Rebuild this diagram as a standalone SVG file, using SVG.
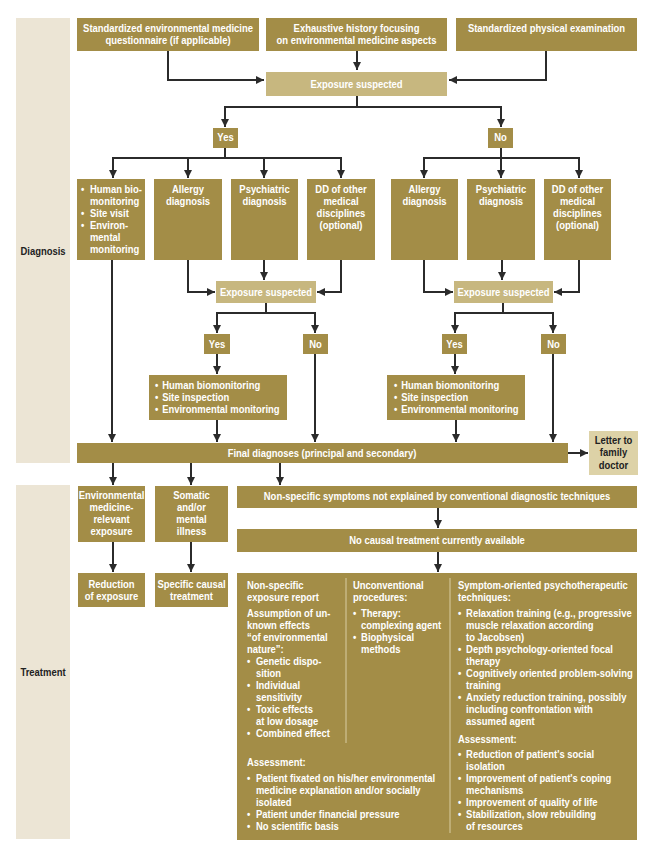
<svg xmlns="http://www.w3.org/2000/svg" width="654" height="859" viewBox="0 0 654 859">
<defs>
<marker id="ah" markerWidth="9" markerHeight="8" refX="8" refY="4" orient="auto" markerUnits="userSpaceOnUse">
<path d="M0,0 L8,4 L0,8 z" fill="#2b2b2b"/>
</marker>
<style>
.band{fill:#ECE5D5}
.box{fill:#A38D47}
.lt{fill:#C7B77F}
.lt2{fill:#DDD2A7}
.t{font-family:"Liberation Sans",Arial,sans-serif;font-weight:bold;font-size:10.5px;fill:#FFFFFF}
.d{font-family:"Liberation Sans",Arial,sans-serif;font-weight:bold;font-size:10.5px;fill:#222222}
.c{fill:none;stroke:#2b2b2b;stroke-width:2}
.a{marker-end:url(#ah)}
.div{stroke:#D9CDA3;stroke-width:1}
</style>
</defs>
<rect width="654" height="859" fill="#FFFFFF"/>

<g id="band-diagnosis">
<rect class="band" x="16" y="18" width="54" height="445"/>
<text class="d" text-anchor="middle" transform="translate(43 0) scale(.9 1)"><tspan x="0" y="255">Diagnosis</tspan></text>
</g>
<g id="band-treatment">
<rect class="band" x="16" y="485" width="54" height="354"/>
<text class="d" text-anchor="middle" transform="translate(43 0) scale(.9 1)"><tspan x="0" y="676">Treatment</tspan></text>
</g>

<g id="connectors">
<path class="c a" d="M168,51 V80 H264"/>
<path class="c a" d="M357,51 V70"/>
<path class="c a" d="M546,51 V80 H449"/>
<path class="c" d="M357,96 V107"/>
<path class="c a" d="M357,107 H225 V127"/>
<path class="c a" d="M357,107 H501 V127"/>
<path class="c a" d="M225,148 V158 H113 V178"/>
<path class="c a" d="M188,158 V178"/>
<path class="c a" d="M264,158 V178"/>
<path class="c a" d="M225,158 H341 V178"/>
<path class="c a" d="M501,148 V178"/>
<path class="c a" d="M501,158 H424 V178"/>
<path class="c a" d="M501,158 H579 V178"/>
<path class="c a" d="M188,260 V292 H215"/>
<path class="c a" d="M264,260 V280"/>
<path class="c a" d="M341,260 V292 H317"/>
<path class="c a" d="M424,260 V292 H453"/>
<path class="c a" d="M502,260 V280"/>
<path class="c a" d="M579,260 V292 H554"/>
<path class="c a" d="M266,303 V313 H217 V333"/>
<path class="c a" d="M266,313 H315 V333"/>
<path class="c a" d="M503,303 V313 H455 V333"/>
<path class="c a" d="M503,313 H553 V333"/>
<path class="c a" d="M217,354 V374"/>
<path class="c a" d="M455,354 V374"/>
<path class="c a" d="M112,260 V442"/>
<path class="c a" d="M217,420 V442"/>
<path class="c a" d="M315,354 V442"/>
<path class="c a" d="M456,420 V442"/>
<path class="c a" d="M553,354 V442"/>
<path class="c a" d="M568,453 H588"/>
<path class="c a" d="M113,463 V485"/>
<path class="c a" d="M191,463 V485"/>
<path class="c a" d="M280,463 V485"/>
<path class="c a" d="M438,508 V528"/>
<path class="c a" d="M438,552 V572"/>
<path class="c a" d="M113,542 V572"/>
<path class="c a" d="M191,542 V572"/>
</g>

<g id="n-questionnaire">
<rect class="box" x="77" y="18" width="182" height="33"/>
<text class="t" text-anchor="middle" transform="translate(168 0) scale(.9 1)"><tspan x="0" y="32">Standardized environmental medicine</tspan><tspan x="0" y="44.5">questionnaire (if applicable)</tspan></text>
</g>
<g id="n-history">
<rect class="box" x="266" y="18" width="181" height="33"/>
<text class="t" text-anchor="middle" transform="translate(356.5 0) scale(.9 1)"><tspan x="0" y="32">Exhaustive history focusing</tspan><tspan x="0" y="44.5">on environmental medicine aspects</tspan></text>
</g>
<g id="n-physical">
<rect class="box" x="456" y="18" width="181" height="33"/>
<text class="t" text-anchor="middle" transform="translate(546.5 0) scale(.9 1)"><tspan x="0" y="32">Standardized physical examination</tspan></text>
</g>
<g id="n-exposure1">
<rect class="lt" x="266" y="72" width="181" height="24"/>
<text class="t" text-anchor="middle" transform="translate(356.5 0) scale(.9 1)"><tspan x="0" y="88">Exposure suspected</tspan></text>
</g>
<g id="n-yes1">
<rect class="box" x="213" y="128" width="25" height="20"/>
<text class="t" text-anchor="middle" transform="translate(225.5 0) scale(.9 1)"><tspan x="0" y="141.5">Yes</tspan></text>
</g>
<g id="n-no1">
<rect class="box" x="488" y="128" width="25" height="20"/>
<text class="t" text-anchor="middle" transform="translate(500.5 0) scale(.9 1)"><tspan x="0" y="141.5">No</tspan></text>
</g>

<g id="n-biomon1">
<rect class="box" x="77" y="179" width="68" height="81"/>
<text class="t" transform="translate(81 0) scale(.9 1)"><tspan x="0" y="193">•</tspan><tspan x="10" y="193">Human bio-</tspan><tspan x="10" y="205">monitoring</tspan><tspan x="0" y="217">•</tspan><tspan x="10" y="217">Site visit</tspan><tspan x="0" y="229">•</tspan><tspan x="10" y="229">Environ-</tspan><tspan x="10" y="241">mental</tspan><tspan x="10" y="253">monitoring</tspan></text>
</g>
<g id="n-allergy1">
<rect class="box" x="154" y="179" width="68" height="81"/>
<text class="t" text-anchor="middle" transform="translate(188 0) scale(.9 1)"><tspan x="0" y="193">Allergy</tspan><tspan x="0" y="205">diagnosis</tspan></text>
</g>
<g id="n-psych1">
<rect class="box" x="231" y="179" width="67" height="81"/>
<text class="t" text-anchor="middle" transform="translate(264.5 0) scale(.9 1)"><tspan x="0" y="193">Psychiatric</tspan><tspan x="0" y="205">diagnosis</tspan></text>
</g>
<g id="n-dd1">
<rect class="box" x="307" y="179" width="68" height="81"/>
<text class="t" text-anchor="middle" transform="translate(341 0) scale(.9 1)"><tspan x="0" y="193">DD of other</tspan><tspan x="0" y="205">medical</tspan><tspan x="0" y="217">disciplines</tspan><tspan x="0" y="229">(optional)</tspan></text>
</g>
<g id="n-allergy2">
<rect class="box" x="391" y="179" width="67" height="81"/>
<text class="t" text-anchor="middle" transform="translate(424.5 0) scale(.9 1)"><tspan x="0" y="193">Allergy</tspan><tspan x="0" y="205">diagnosis</tspan></text>
</g>
<g id="n-psych2">
<rect class="box" x="467" y="179" width="68" height="81"/>
<text class="t" text-anchor="middle" transform="translate(501 0) scale(.9 1)"><tspan x="0" y="193">Psychiatric</tspan><tspan x="0" y="205">diagnosis</tspan></text>
</g>
<g id="n-dd2">
<rect class="box" x="544" y="179" width="67" height="81"/>
<text class="t" text-anchor="middle" transform="translate(577.5 0) scale(.9 1)"><tspan x="0" y="193">DD of other</tspan><tspan x="0" y="205">medical</tspan><tspan x="0" y="217">disciplines</tspan><tspan x="0" y="229">(optional)</tspan></text>
</g>

<g id="n-exposure2">
<rect class="lt" x="216" y="281" width="100" height="22"/>
<text class="t" text-anchor="middle" transform="translate(266 0) scale(.9 1)"><tspan x="0" y="296">Exposure suspected</tspan></text>
</g>
<g id="n-exposure3">
<rect class="lt" x="454" y="281" width="99" height="22"/>
<text class="t" text-anchor="middle" transform="translate(503.5 0) scale(.9 1)"><tspan x="0" y="296">Exposure suspected</tspan></text>
</g>
<g id="n-yes2">
<rect class="box" x="204" y="334" width="26" height="20"/>
<text class="t" text-anchor="middle" transform="translate(217 0) scale(.9 1)"><tspan x="0" y="348">Yes</tspan></text>
</g>
<g id="n-no2">
<rect class="box" x="303" y="334" width="25" height="20"/>
<text class="t" text-anchor="middle" transform="translate(315.5 0) scale(.9 1)"><tspan x="0" y="348">No</tspan></text>
</g>
<g id="n-yes3">
<rect class="box" x="442" y="334" width="25" height="20"/>
<text class="t" text-anchor="middle" transform="translate(454.5 0) scale(.9 1)"><tspan x="0" y="348">Yes</tspan></text>
</g>
<g id="n-no3">
<rect class="box" x="541" y="334" width="25" height="20"/>
<text class="t" text-anchor="middle" transform="translate(553.5 0) scale(.9 1)"><tspan x="0" y="348">No</tspan></text>
</g>
<g id="n-biomon2">
<rect class="box" x="149" y="375" width="138" height="45"/>
<text class="t" transform="translate(155 0) scale(.9 1)"><tspan x="0" y="389">•</tspan><tspan x="8" y="389">Human biomonitoring</tspan><tspan x="0" y="401">•</tspan><tspan x="8" y="401">Site inspection</tspan><tspan x="0" y="413">•</tspan><tspan x="8" y="413">Environmental monitoring</tspan></text>
</g>
<g id="n-biomon3">
<rect class="box" x="387" y="375" width="138" height="45"/>
<text class="t" transform="translate(394 0) scale(.9 1)"><tspan x="0" y="389">•</tspan><tspan x="8" y="389">Human biomonitoring</tspan><tspan x="0" y="401">•</tspan><tspan x="8" y="401">Site inspection</tspan><tspan x="0" y="413">•</tspan><tspan x="8" y="413">Environmental monitoring</tspan></text>
</g>
<g id="n-final">
<rect class="box" x="77" y="443" width="491" height="20"/>
<text class="t" text-anchor="middle" transform="translate(322 0) scale(.9 1)"><tspan x="0" y="457">Final diagnoses (principal and secondary)</tspan></text>
</g>
<g id="n-letter">
<rect class="lt2" x="589" y="431" width="49" height="44"/>
<text class="d" text-anchor="middle" transform="translate(613.5 0) scale(.9 1)"><tspan x="0" y="444">Letter to</tspan><tspan x="0" y="456.5">family</tspan><tspan x="0" y="469">doctor</tspan></text>
</g>

<g id="n-envexposure">
<rect class="box" x="78" y="486" width="67" height="56"/>
<text class="t" text-anchor="middle" transform="translate(111.5 0) scale(.9 1)"><tspan x="0" y="499">Environmental</tspan><tspan x="0" y="511">medicine-</tspan><tspan x="0" y="523">relevant</tspan><tspan x="0" y="535">exposure</tspan></text>
</g>
<g id="n-somatic">
<rect class="box" x="155" y="486" width="73" height="56"/>
<text class="t" text-anchor="middle" transform="translate(191.5 0) scale(.9 1)"><tspan x="0" y="499">Somatic</tspan><tspan x="0" y="511">and/or</tspan><tspan x="0" y="523">mental</tspan><tspan x="0" y="535">illness</tspan></text>
</g>
<g id="n-nonspecific">
<rect class="box" x="237" y="486" width="400" height="22"/>
<text class="t" text-anchor="middle" transform="translate(437 0) scale(.9 1)"><tspan x="0" y="500">Non-specific symptoms not explained by conventional diagnostic techniques</tspan></text>
</g>
<g id="n-nocausal">
<rect class="box" x="237" y="529" width="400" height="23"/>
<text class="t" text-anchor="middle" transform="translate(437 0) scale(.9 1)"><tspan x="0" y="544">No causal treatment currently available</tspan></text>
</g>
<g id="n-reduction">
<rect class="box" x="78" y="573" width="67" height="34"/>
<text class="t" text-anchor="middle" transform="translate(111.5 0) scale(.9 1)"><tspan x="0" y="588">Reduction</tspan><tspan x="0" y="600">of exposure</tspan></text>
</g>
<g id="n-specific">
<rect class="box" x="155" y="573" width="73" height="34"/>
<text class="t" text-anchor="middle" transform="translate(191.5 0) scale(.9 1)"><tspan x="0" y="588">Specific causal</tspan><tspan x="0" y="600">treatment</tspan></text>
</g>
<g id="n-options">
<rect class="box" x="237" y="573" width="400" height="267"/>
<line class="div" x1="346" y1="578" x2="346" y2="743"/>
<line class="div" x1="450" y1="578" x2="450" y2="833"/>
<text class="t" transform="translate(247 0) scale(.9 1)"><tspan x="0" y="589">Non-specific</tspan><tspan x="0" y="601">exposure report</tspan><tspan x="0" y="617">Assumption of un-</tspan><tspan x="0" y="629">known effects</tspan><tspan x="0" y="641">“of environmental</tspan><tspan x="0" y="653">nature”:</tspan><tspan x="0" y="665">•</tspan><tspan x="10" y="665">Genetic dispo-</tspan><tspan x="10" y="677">sition</tspan><tspan x="0" y="689">•</tspan><tspan x="10" y="689">Individual</tspan><tspan x="10" y="701">sensitivity</tspan><tspan x="0" y="713">•</tspan><tspan x="10" y="713">Toxic effects</tspan><tspan x="10" y="725">at low dosage</tspan><tspan x="0" y="737">•</tspan><tspan x="10" y="737">Combined effect</tspan><tspan x="0" y="766">Assessment:</tspan><tspan x="0" y="782">•</tspan><tspan x="10" y="782">Patient fixated on his/her environmental</tspan><tspan x="10" y="794">medicine explanation and/or socially</tspan><tspan x="10" y="806">isolated</tspan><tspan x="0" y="818">•</tspan><tspan x="10" y="818">Patient under financial pressure</tspan><tspan x="0" y="830">•</tspan><tspan x="10" y="830">No scientific basis</tspan></text>
<text class="t" transform="translate(353 0) scale(.9 1)"><tspan x="0" y="589">Unconventional</tspan><tspan x="0" y="601">procedures:</tspan><tspan x="0" y="617">•</tspan><tspan x="9" y="617">Therapy:</tspan><tspan x="9" y="629">complexing agent</tspan><tspan x="0" y="641">•</tspan><tspan x="9" y="641">Biophysical</tspan><tspan x="9" y="653">methods</tspan></text>
<text class="t" transform="translate(458 0) scale(.9 1)"><tspan x="0" y="589">Symptom-oriented psychotherapeutic</tspan><tspan x="0" y="601">techniques:</tspan><tspan x="0" y="617">•</tspan><tspan x="9" y="617">Relaxation training (e.g., progressive</tspan><tspan x="9" y="629">muscle relaxation according</tspan><tspan x="9" y="641">to Jacobsen)</tspan><tspan x="0" y="653">•</tspan><tspan x="9" y="653">Depth psychology-oriented focal</tspan><tspan x="9" y="665">therapy</tspan><tspan x="0" y="677">•</tspan><tspan x="9" y="677">Cognitively oriented problem-solving</tspan><tspan x="9" y="689">training</tspan><tspan x="0" y="701">•</tspan><tspan x="9" y="701">Anxiety reduction training, possibly</tspan><tspan x="9" y="713">including confrontation with</tspan><tspan x="9" y="725">assumed agent</tspan><tspan x="0" y="743">Assessment:</tspan><tspan x="0" y="758">•</tspan><tspan x="9" y="758">Reduction of patient's social</tspan><tspan x="9" y="770">isolation</tspan><tspan x="0" y="782">•</tspan><tspan x="9" y="782">Improvement of patient's coping</tspan><tspan x="9" y="794">mechanisms</tspan><tspan x="0" y="806">•</tspan><tspan x="9" y="806">Improvement of quality of life</tspan><tspan x="0" y="818">•</tspan><tspan x="9" y="818">Stabilization, slow rebuilding</tspan><tspan x="9" y="830">of resources</tspan></text>
</g>
</svg>
